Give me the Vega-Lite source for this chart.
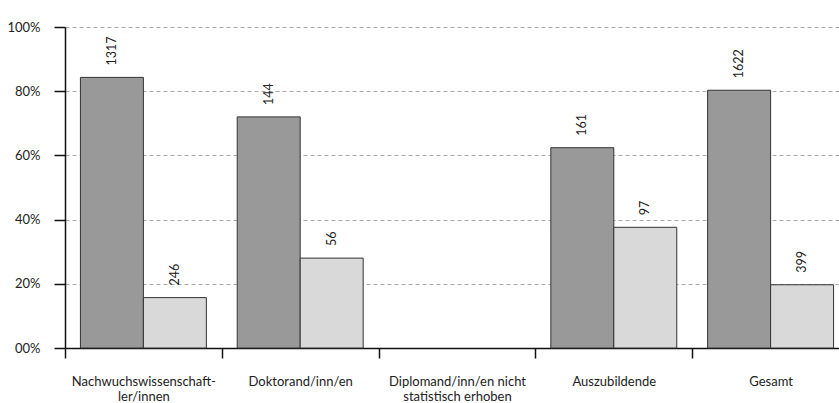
{
  "$schema": "https://vega.github.io/schema/vega-lite/v6.json",
  "width": 774,
  "height": 321,
  "autosize": {"type": "none"},
  "padding": {"left": 65, "top": 27, "right": 0, "bottom": 55},
  "background": "white",
  "config": {
    "view": {"stroke": null},
    "font": "Lato",
    "axis": {"labelFont": "Lato", "labelColor": "#222", "labelFontSize": 13, "domainColor": "#111", "tickColor": "#111", "domainWidth": 1.5, "tickWidth": 1.5}
  },
  "data": {
    "values": [
      {"kategorie": "Nachwuchswissenschaft-|ler/innen", "gruppe": "a", "anteil": 84.3, "anzahl": 1317},
      {"kategorie": "Nachwuchswissenschaft-|ler/innen", "gruppe": "b", "anteil": 15.7, "anzahl": 246},
      {"kategorie": "Doktorand/inn/en", "gruppe": "a", "anteil": 72.0, "anzahl": 144},
      {"kategorie": "Doktorand/inn/en", "gruppe": "b", "anteil": 28.0, "anzahl": 56},
      {"kategorie": "Diplomand/inn/en nicht|statistisch erhoben", "gruppe": "a", "anteil": null, "anzahl": null},
      {"kategorie": "Auszubildende", "gruppe": "a", "anteil": 62.4, "anzahl": 161},
      {"kategorie": "Auszubildende", "gruppe": "b", "anteil": 37.6, "anzahl": 97},
      {"kategorie": "Gesamt", "gruppe": "a", "anteil": 80.3, "anzahl": 1622},
      {"kategorie": "Gesamt", "gruppe": "b", "anteil": 19.7, "anzahl": 399}
    ]
  },
  "encoding": {
    "x": {
      "field": "kategorie",
      "type": "nominal",
      "sort": null,
      "scale": {
        "domain": ["Nachwuchswissenschaft-|ler/innen", "Doktorand/inn/en", "Diplomand/inn/en nicht|statistisch erhoben", "Auszubildende", "Gesamt"],
        "range": [0, 784],
        "paddingInner": 0,
        "paddingOuter": 0
      },
      "axis": {
        "title": null,
        "labelAngle": 0,
        "tickBand": "extent",
        "tickSize": 10,
        "labelPadding": 17,
        "labelLineHeight": 15,
        "labelExpr": "split(datum.label, '|')",
        "grid": false
      }
    },
    "xOffset": {"field": "gruppe", "scale": {"domain": ["a", "b"], "paddingOuter": 0.245, "paddingInner": 0}},
    "y": {
      "field": "anteil",
      "type": "quantitative",
      "scale": {"domain": [0, 100]},
      "axis": {
        "title": null,
        "values": [0, 20, 40, 60, 80, 100],
        "labelExpr": "datum.value == 0 ? '00%' : datum.value + '%'",
        "tickSize": 11,
        "labelPadding": 14,
        "grid": true,
        "gridColor": "#aaa",
        "gridDash": [4, 3],
        "gridWidth": 1
      }
    }
  },
  "layer": [
    {
      "mark": {"type": "bar", "stroke": "#333", "strokeWidth": 1},
      "encoding": {
        "color": {"field": "gruppe", "type": "nominal", "scale": {"domain": ["a", "b"], "range": ["#999999", "#d9d9d9"]}, "legend": null}
      }
    },
    {
      "mark": {"type": "text", "angle": 270, "align": "left", "baseline": "middle", "dx": 12, "fontSize": 12.5, "color": "#222"},
      "encoding": {"text": {"field": "anzahl", "type": "quantitative"}}
    }
  ]
}
